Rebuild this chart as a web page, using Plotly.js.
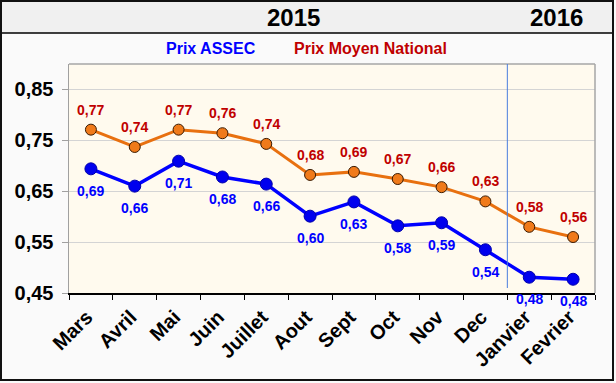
<!DOCTYPE html>
<html>
<head>
<meta charset="utf-8">
<script src="https://cdn.plot.ly/plotly-3.0.1.min.js"></script>
<style>
html,body{margin:0;padding:0;background:#fafafa;}
#chart{width:616px;height:383px;}
</style>
</head>
<body>
<div id="chart"></div>
<script>
const months = ['Mars','Avril','Mai','Juin','Juillet','Aout','Sept','Oct','Nov','Dec','Janvier','Fevrier'];
const assec = [0.694, 0.660, 0.709, 0.678, 0.664, 0.601, 0.629, 0.582, 0.588, 0.535, 0.481, 0.477];
const national = [0.771, 0.737, 0.771, 0.764, 0.743, 0.682, 0.688, 0.674, 0.658, 0.630, 0.580, 0.560];
const assecLabels = ['0,69','0,66','0,71','0,68','0,66','0,60','0,63','0,58','0,59','0,54','0,48','0,48'];
const nationalLabels = ['0,77','0,74','0,77','0,76','0,74','0,68','0,69','0,67','0,66','0,63','0,58','0,56'];
const yTicks = [0.45, 0.55, 0.65, 0.75, 0.85];
const yTickText = ['0,45','0,55','0,65','0,75','0,85'];
const years = ['2015','2016'];
const seriesNames = ['Prix ASSEC','Prix Moyen National'];

const FONT = 'Liberation Sans, Arial, sans-serif';
const L = 69, R = 595, T = 64, B = 293, W = 616, H = 383;
const px = x => (x - L) / (R - L);
const py = y => (B - y) / (B - T);

const traces = [
  {
    x: months, y: national, type: 'scatter', mode: 'lines+markers',
    line: {color: '#e8700f', width: 3},
    marker: {size: 11, color: '#f07a1a', line: {color: '#3a1a00', width: 1}},
    cliponaxis: false, hoverinfo: 'skip'
  },
  {
    x: months, y: assec, type: 'scatter', mode: 'lines+markers',
    line: {color: '#0000ff', width: 3.5},
    marker: {size: 12, color: '#0000ee', line: {color: '#0000aa', width: 1}},
    cliponaxis: false, hoverinfo: 'skip'
  }
];

const annotations = [];
months.forEach((m, i) => {
  annotations.push({x: m, y: national[i], xref: 'x', yref: 'y', text: nationalLabels[i],
    showarrow: false, yshift: 20, font: {family: FONT, size: 14, color: '#c00000', weight: 'bold'}});
  annotations.push({x: m, y: assec[i], xref: 'x', yref: 'y', text: assecLabels[i],
    showarrow: false, yshift: -22, font: {family: FONT, size: 14, color: '#0000ff', weight: 'bold'}});
});
annotations.push({x: px(293), y: py(17), xref: 'paper', yref: 'paper', text: years[0], showarrow: false,
  xanchor: 'center', yanchor: 'middle', font: {family: FONT, size: 24, color: '#000', weight: 'bold'}});
annotations.push({x: px(556), y: py(17), xref: 'paper', yref: 'paper', text: years[1], showarrow: false,
  xanchor: 'center', yanchor: 'middle', font: {family: FONT, size: 24, color: '#000', weight: 'bold'}});
annotations.push({x: px(211), y: py(48), xref: 'paper', yref: 'paper', text: seriesNames[0], showarrow: false,
  xanchor: 'center', yanchor: 'middle', font: {family: FONT, size: 16, color: '#0000ff', weight: 'bold'}});
annotations.push({x: px(370), y: py(48), xref: 'paper', yref: 'paper', text: seriesNames[1], showarrow: false,
  xanchor: 'center', yanchor: 'middle', font: {family: FONT, size: 16, color: '#c00000', weight: 'bold'}});

const shapes = [
  {type: 'rect', xref: 'paper', yref: 'paper', x0: px(1), x1: px(613), y0: py(33), y1: py(1),
    fillcolor: '#f0f0f0', line: {width: 0}, layer: 'below'},
  {type: 'line', xref: 'paper', yref: 'paper', x0: px(1), x1: px(613), y0: py(33), y1: py(33),
    line: {color: '#000', width: 1.5}},
  {type: 'rect', xref: 'paper', yref: 'paper', x0: px(1), x1: px(613), y0: py(380), y1: py(1),
    line: {color: '#111', width: 2}},
  {type: 'line', xref: 'paper', yref: 'paper', x0: 0, x1: 1, y0: 1, y1: 1, line: {color: '#a6a6a6', width: 1.5}},
  {type: 'line', xref: 'paper', yref: 'paper', x0: 1, x1: 1, y0: 0, y1: 1, line: {color: '#a6a6a6', width: 1.5}},
  {type: 'line', xref: 'x', yref: 'paper', x0: 9.5, x1: 9.5, y0: py(288), y1: 1, line: {color: '#4a7ede', width: 1}}
];

const layout = {
  width: W, height: H,
  margin: {l: L, r: W - R, t: T, b: H - B, pad: 0},
  paper_bgcolor: '#fafafa',
  plot_bgcolor: '#fffaee',
  showlegend: false,
  font: {family: FONT},
  xaxis: {
    type: 'category', range: [-0.5, 11.5],
    showline: true, linecolor: '#000', linewidth: 1.5,
    ticks: 'outside', tickson: 'boundaries', ticklen: 5, tickcolor: '#000', tickwidth: 1,
    tickangle: -45, showgrid: false, zeroline: false,
    ticklabelstandoff: 3, ticklabelshift: -4,
    tickfont: {family: FONT, size: 20, color: '#000', weight: 'bold'}
  },
  yaxis: {
    range: [0.45, 0.90], tickvals: yTicks, ticktext: yTickText,
    showline: true, linecolor: '#a0a0a0', linewidth: 1.5,
    ticks: 'outside', ticklen: 6, tickcolor: '#a0a0a0',
    showgrid: true, gridcolor: '#d4d4d4', gridwidth: 1, zeroline: false,
    ticklabelstandoff: 4,
    tickfont: {family: FONT, size: 20, color: '#000', weight: 'bold'}
  },
  annotations: annotations,
  shapes: shapes
};

Plotly.newPlot('chart', traces, layout, {displayModeBar: false, staticPlot: true});
</script>
</body>
</html>
